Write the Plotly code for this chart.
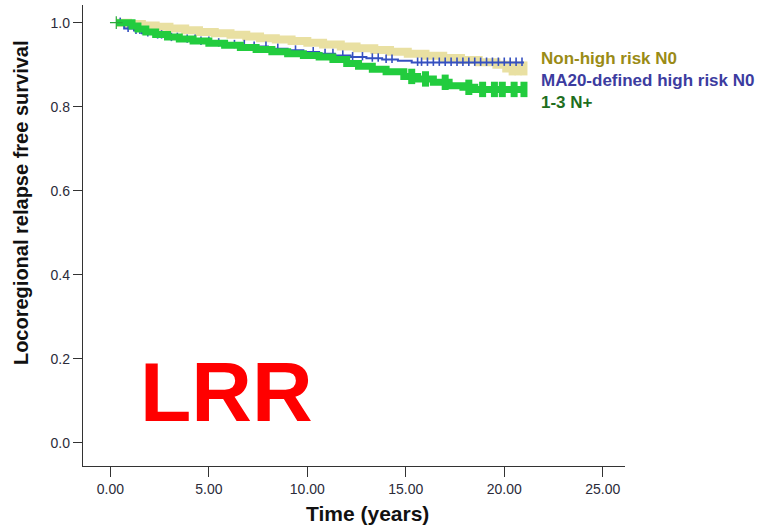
import plotly.graph_objects as go

# ---- data ----
tan_t = [0.3, 0.9, 1.6, 2.3, 3.0, 3.8, 4.5, 5.3, 6.1, 6.9, 7.6, 8.4, 9.2, 10.0, 10.8, 11.7,
         12.5, 13.4, 14.2, 15.1, 16.0, 16.9, 17.8, 18.7, 19.6, 20.1, 21.0]
tan_s = [1.0, 0.997, 0.993, 0.990, 0.986, 0.982, 0.978, 0.975, 0.971, 0.967, 0.963, 0.960,
         0.956, 0.952, 0.948, 0.943, 0.939, 0.935, 0.931, 0.926, 0.921, 0.916, 0.911, 0.906,
         0.900, 0.891, 0.891]
tan_cens = [20.4, 20.7, 21.0]

green_t = [0.3, 1.1, 1.4, 1.8, 2.3, 2.9, 3.5, 4.2, 5.0, 5.8, 6.6, 7.4, 8.2, 9.0, 9.8, 10.6,
           11.3, 12.0, 12.6, 13.3, 14.0, 14.9, 15.6, 16.4, 17.2, 17.9, 18.5, 21.0]
green_s = [1.0, 0.992, 0.985, 0.978, 0.972, 0.966, 0.961, 0.956, 0.951, 0.946, 0.941, 0.936,
           0.931, 0.926, 0.922, 0.918, 0.912, 0.903, 0.896, 0.889, 0.883, 0.872, 0.866, 0.858,
           0.850, 0.846, 0.841, 0.841]
green_cens = [0.3, 15.3, 16.0, 17.0, 18.2, 18.9, 19.5, 19.9, 20.5, 21.0]

blue_t = [0.3, 0.7, 1.2, 1.6, 2.2, 2.9, 3.6, 4.4, 5.2, 6.0, 7.0, 8.0, 9.0, 9.8, 10.6, 11.4,
          12.2, 13.0, 13.8, 14.6, 15.3, 21.0]
blue_s = [1.0, 0.986, 0.981, 0.975, 0.970, 0.964, 0.960, 0.955, 0.951, 0.947, 0.943, 0.938,
          0.934, 0.930, 0.926, 0.922, 0.918, 0.915, 0.912, 0.909, 0.905, 0.905]
blue_cens = [0.5, 0.9, 1.3, 1.5, 1.9, 2.4, 2.6, 3.1, 3.4, 3.9, 4.3, 4.6, 5.0, 5.5, 6.3, 6.8,
             7.3, 7.9, 8.5, 9.4, 10.3, 10.9, 11.3, 11.8, 12.3, 12.8, 13.3, 13.6, 14.0, 14.3,
             15.6, 15.8, 16.1, 16.4, 16.7, 17.0, 17.3, 17.6, 17.9, 18.2, 18.5, 18.8, 19.1,
             19.4, 19.7, 20.0, 20.3, 20.6, 20.9]

group_names = ["Non-high risk N0", "MA20-defined high risk N0", "1-3 N+"]
x_ticks = [0, 5, 10, 15, 20, 25]
y_ticks = [0.0, 0.2, 0.4, 0.6, 0.8, 1.0]


def step_at(ts, ss, t):
    v = ss[0]
    for ti, si in zip(ts, ss):
        if ti <= t:
            v = si
    return v


FONT = "Liberation Sans, Arial, sans-serif"
TAN, GREEN, BLUE = "#E9E0A2", "#22CC3E", "#3550C0"

fig = go.Figure()

# Non-high risk N0 (tan, thick)
fig.add_trace(go.Scatter(x=tan_t, y=tan_s, mode="lines", line=dict(color=TAN, width=8, shape="hv"),
                         showlegend=False, hoverinfo="skip"))
fig.add_trace(go.Scatter(x=tan_cens, y=[step_at(tan_t, tan_s, t) for t in tan_cens], mode="markers",
                         marker=dict(symbol="line-ns", size=10, line=dict(color=TAN, width=7)),
                         showlegend=False, hoverinfo="skip"))
# MA20 (blue, thin with censor ticks)
fig.add_trace(go.Scatter(x=blue_t, y=blue_s, mode="lines", line=dict(color=BLUE, width=2, shape="hv"),
                         showlegend=False, hoverinfo="skip"))
fig.add_trace(go.Scatter(x=blue_cens, y=[step_at(blue_t, blue_s, t) + 0.002 for t in blue_cens],
                         mode="markers",
                         marker=dict(symbol="line-ns", size=6, line=dict(color=BLUE, width=1.6)),
                         showlegend=False, hoverinfo="skip"))
# 1-3 N+ (green, thick)
fig.add_trace(go.Scatter(x=green_t, y=green_s, mode="lines", line=dict(color=GREEN, width=7, shape="hv"),
                         showlegend=False, hoverinfo="skip"))
fig.add_trace(go.Scatter(x=green_cens[1:], y=[step_at(green_t, green_s, t) for t in green_cens[1:]],
                         mode="markers",
                         marker=dict(symbol="line-ns", size=11, line=dict(color=GREEN, width=7)),
                         showlegend=False, hoverinfo="skip"))
# start "+" mark
fig.add_trace(go.Scatter(x=green_cens[:1], y=[1.0], mode="markers",
                         marker=dict(symbol="cross-thin", size=9, line=dict(color="#2AAA3A", width=1.2)),
                         showlegend=False, hoverinfo="skip"))

axis_common = dict(showline=True, linecolor="#333333", linewidth=1.3, ticks="outside",
                   tickcolor="#333333", tickwidth=1.3, showgrid=False, zeroline=False,
                   tickfont=dict(family=FONT, size=14, color="#2b2b3a"))
fig.update_xaxes(range=[-1.39, 26.13], tickvals=x_ticks, tickformat=".2f", ticklen=10, **axis_common)
fig.update_yaxes(range=[-0.0555, 1.042], tickvals=y_ticks, tickformat=".1f", ticklen=9, **axis_common)

label_colors = ["#9A8B16", "#3C3CA0", "#1E6E20"]
label_text = "<br>".join("<span style='color:%s'><b>%s</b></span>" % (c, n)
                         for n, c in zip(group_names, label_colors))
annotations = [dict(x=0.841, y=0.837, xref="paper", yref="paper", xanchor="left", yanchor="middle",
                    align="left", text=label_text, showarrow=False,
                    font=dict(family=FONT, size=17, color=label_colors[1]))]
annotations.append(dict(x=0.524, y=-0.104, xref="paper", yref="paper", xanchor="center", yanchor="middle",
                        text="<b>Time (years)</b>", showarrow=False,
                        font=dict(family=FONT, size=21, color="#111111")))
annotations.append(dict(x=-0.113, y=0.572, xref="paper", yref="paper", xanchor="center", yanchor="middle",
                        text="<b>Locoregional relapse free survival</b>", textangle=-90, showarrow=False,
                        font=dict(family=FONT, size=20, color="#111111")))
annotations.append(dict(x=0.265, y=0.16, xref="paper", yref="paper", xanchor="center", yanchor="middle",
                        text="<b>LRR</b>", showarrow=False,
                        font=dict(family=FONT, size=84, color="#FF0000")))

fig.update_layout(width=767, height=526, margin=dict(l=83, r=142, t=5, b=60),
                  plot_bgcolor="white", paper_bgcolor="white", annotations=annotations,
                  showlegend=False)

fig.write_html("out.html", config={"displayModeBar": False},
               post_script="document.body.style.margin='0';")
